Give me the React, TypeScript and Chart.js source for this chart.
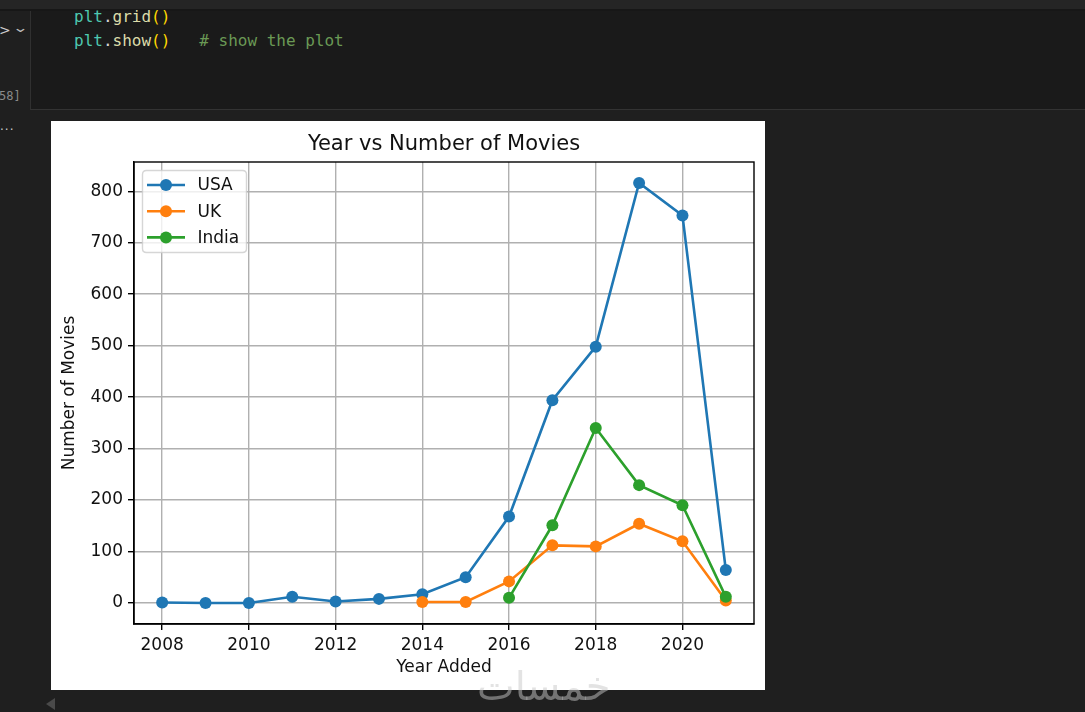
import React, { useEffect, useRef } from "react";
import { Chart, registerables } from "chart.js";

Chart.register(...registerables);

// ---- data ----
const USA_YEARS = [2008, 2009, 2010, 2011, 2012, 2013, 2014, 2015, 2016, 2017, 2018, 2019, 2020, 2021];
const USA_VALUES = [1, 0, 0, 12, 3, 8, 17, 50, 168, 394, 498, 816, 753, 64];
const UK_YEARS = [2014, 2015, 2016, 2017, 2018, 2019, 2020, 2021];
const UK_VALUES = [2, 2, 42, 112, 110, 154, 120, 5];
const INDIA_YEARS = [2016, 2017, 2018, 2019, 2020, 2021];
const INDIA_VALUES = [10, 151, 340, 229, 190, 12];
const X_TICKS = [2008, 2010, 2012, 2014, 2016, 2018, 2020];
const Y_TICKS = [0, 100, 200, 300, 400, 500, 600, 700, 800];
const SERIES_NAMES = ["USA", "UK", "India"];
const SERIES_COLORS = ["#1f77b4", "#ff7f0e", "#2ca02c"];
const TITLE = "Year vs Number of Movies";
const X_LABEL = "Year Added";
const Y_LABEL = "Number of Movies";

const FONT = "'DejaVu Sans', sans-serif";

const pts = (xs: number[], ys: number[]) => xs.map((x, i) => ({ x, y: ys[i] }));

const framePlugin = {
  id: "frameAndExtras",
  afterDatasetsDraw(chart: any) {
    const { ctx, chartArea } = chart;
    const { left, right, top, bottom } = chartArea;
    ctx.save();
    // spines
    ctx.strokeStyle = "#000";
    ctx.lineWidth = 1.4;
    ctx.strokeRect(left, top, right - left, bottom - top);
    // title
    ctx.fillStyle = "#111";
    ctx.font = `21px ${FONT}`;
    ctx.textAlign = "center";
    ctx.textBaseline = "middle";
    ctx.fillText(TITLE, (left + right) / 2, 24);
    // legend
    const bx = left + 8.5, by = top + 8.5, bw = 104, bh = 82, r = 4;
    ctx.beginPath();
    ctx.moveTo(bx + r, by);
    ctx.lineTo(bx + bw - r, by);
    ctx.quadraticCurveTo(bx + bw, by, bx + bw, by + r);
    ctx.lineTo(bx + bw, by + bh - r);
    ctx.quadraticCurveTo(bx + bw, by + bh, bx + bw - r, by + bh);
    ctx.lineTo(bx + r, by + bh);
    ctx.quadraticCurveTo(bx, by + bh, bx, by + bh - r);
    ctx.lineTo(bx, by + r);
    ctx.quadraticCurveTo(bx, by, bx + r, by);
    ctx.closePath();
    ctx.fillStyle = "rgba(255,255,255,0.8)";
    ctx.fill();
    ctx.strokeStyle = "rgba(204,204,204,0.8)";
    ctx.lineWidth = 1.4;
    ctx.stroke();
    ctx.font = `17px ${FONT}`;
    ctx.textAlign = "left";
    SERIES_NAMES.forEach((name, i) => {
      const cy = by + 14.5 + i * 26.2;
      ctx.strokeStyle = SERIES_COLORS[i];
      ctx.lineWidth = 2.6;
      ctx.beginPath();
      ctx.moveTo(bx + 4.5, cy);
      ctx.lineTo(bx + 42.5, cy);
      ctx.stroke();
      ctx.fillStyle = SERIES_COLORS[i];
      ctx.beginPath();
      ctx.arc(bx + 23.5, cy, 6, 0, Math.PI * 2);
      ctx.fill();
      ctx.fillStyle = "#111";
      ctx.fillText(name, bx + 55, cy + 1);
    });
    ctx.restore();
  },
};

function MplChart() {
  const ref = useRef<HTMLCanvasElement | null>(null);
  useEffect(() => {
    if (!ref.current) return;
    const seriesData = [pts(USA_YEARS, USA_VALUES), pts(UK_YEARS, UK_VALUES), pts(INDIA_YEARS, INDIA_VALUES)];
    const chart = new Chart(ref.current, {
      type: "line",
      data: {
        datasets: SERIES_NAMES.map((name, i) => ({
          label: name,
          data: seriesData[i],
          borderColor: SERIES_COLORS[i],
          backgroundColor: SERIES_COLORS[i],
          pointBackgroundColor: SERIES_COLORS[i],
          pointBorderWidth: 0,
          pointRadius: 6,
          borderWidth: 2.6,
          tension: 0,
          fill: false,
          order: 2 - i,
        })),
      },
      options: {
        animation: false,
        responsive: false,
        maintainAspectRatio: false,
        events: [],
        layout: { padding: { top: 41, right: 11, left: 0, bottom: 0 } },
        plugins: {
          legend: { display: false },
          tooltip: { enabled: false },
          title: { display: false },
        },
        scales: {
          x: {
            type: "linear",
            min: 2007.35,
            max: 2021.65,
            afterBuildTicks: (s: any) => {
              s.ticks = X_TICKS.map((v) => ({ value: v }));
            },
            afterFit: (s: any) => {
              s.height = 66;
            },
            ticks: {
              autoSkip: false,
              maxRotation: 0,
              color: "#111",
              padding: 5,
              font: { family: FONT, size: 17 },
              callback: (v: any) => String(v),
            },
            grid: { color: "#b0b0b0", lineWidth: 1.4, tickColor: "#000", tickLength: 6, tickWidth: 1.4 },
            border: { display: true, color: "#000", width: 1.4 },
            title: {
              display: true,
              text: X_LABEL,
              color: "#111",
              font: { family: FONT, size: 17 },
              padding: { top: 0, bottom: 12 },
            },
          },
          y: {
            type: "linear",
            min: -40.8,
            max: 856.8,
            afterBuildTicks: (s: any) => {
              s.ticks = Y_TICKS.map((v) => ({ value: v }));
            },
            afterFit: (s: any) => {
              s.width = 83;
            },
            ticks: {
              autoSkip: false,
              color: "#111",
              padding: 5,
              font: { family: FONT, size: 17 },
              callback: (v: any) => String(v),
            },
            grid: { color: "#b0b0b0", lineWidth: 1.4, tickColor: "#000", tickLength: 6, tickWidth: 1.4 },
            border: { display: true, color: "#000", width: 1.4 },
            title: {
              display: true,
              text: Y_LABEL,
              color: "#111",
              font: { family: FONT, size: 17 },
              padding: { top: 8, bottom: 0 },
            },
          },
        },
      },
      plugins: [framePlugin],
    } as any);
    return () => chart.destroy();
  }, []);
  return <canvas ref={ref} width={714} height={569} style={{ display: "block", width: 714, height: 569 }} />;
}

const mono = "'DejaVu Sans Mono', 'Liberation Mono', monospace";

export default function App() {
  return (
    <div
      style={{
        position: "fixed",
        left: 0,
        top: 0,
        width: 1085,
        height: 712,
        background: "#1f1f1f",
        overflow: "hidden",
        fontFamily: "'DejaVu Sans', sans-serif",
      }}
    >
      {/* top strip */}
      <div style={{ position: "absolute", left: 0, top: 0, width: 1085, height: 9, background: "#252525" }} />
      <div style={{ position: "absolute", left: 0, top: 9, width: 1085, height: 2, background: "#171717" }} />
      {/* code cell */}
      <div
        style={{
          position: "absolute",
          left: 30,
          top: 11,
          width: 1055,
          height: 98,
          background: "#1a1a1a",
          borderLeft: "1px solid #303030",
          borderBottom: "1px solid #333333",
        }}
      />
      <div style={{ position: "absolute", left: 74, top: 5, fontFamily: mono, fontSize: 16, lineHeight: "24px", whiteSpace: "pre" }}>
        <div>
          <span style={{ color: "#4ec9b0" }}>plt</span>
          <span style={{ color: "#d4d4d4" }}>.</span>
          <span style={{ color: "#dcdcaa" }}>grid</span>
          <span style={{ color: "#ffd700" }}>()</span>
        </div>
        <div>
          <span style={{ color: "#4ec9b0" }}>plt</span>
          <span style={{ color: "#d4d4d4" }}>.</span>
          <span style={{ color: "#dcdcaa" }}>show</span>
          <span style={{ color: "#ffd700" }}>()</span>
          <span style={{ color: "#d4d4d4" }}>{"   "}</span>
          <span style={{ color: "#6a9955" }}># show the plot</span>
        </div>
      </div>
      {/* left gutter */}
      <div style={{ position: "absolute", left: -1, top: 20, color: "#cccccc", fontSize: 14, lineHeight: "20px" }}>&gt;</div>
      <div style={{ position: "absolute", left: 15, top: 18, color: "#bbbbbb", fontSize: 13, lineHeight: "20px", transform: "scaleX(1.5)" }}>⌄</div>
      <div style={{ position: "absolute", left: -1, top: 87, color: "#8a8a8a", fontFamily: mono, fontSize: 12, lineHeight: "18px" }}>58]</div>
      <div style={{ position: "absolute", left: 0, top: 118, color: "#cccccc", fontSize: 12, lineHeight: "16px", letterSpacing: 1 }}>...</div>
      {/* output figure */}
      <div style={{ position: "absolute", left: 51, top: 121, width: 714, height: 569, background: "#ffffff" }}>
        <MplChart />
      </div>
      {/* scroll arrow */}
      <div
        style={{
          position: "absolute",
          left: 46,
          top: 698,
          width: 0,
          height: 0,
          borderTop: "6px solid transparent",
          borderBottom: "6px solid transparent",
          borderRight: "9px solid #4a4a4a",
        }}
      />
      {/* watermark */}
      <div
        style={{
          position: "absolute",
          left: 477,
          top: 662,
          fontSize: 40,
          lineHeight: "48px",
          color: "rgba(200,200,200,0.5)",
          fontFamily: "'DejaVu Sans', sans-serif",
          direction: "rtl",
        }}
      >
        خمسات
      </div>
    </div>
  );
}
